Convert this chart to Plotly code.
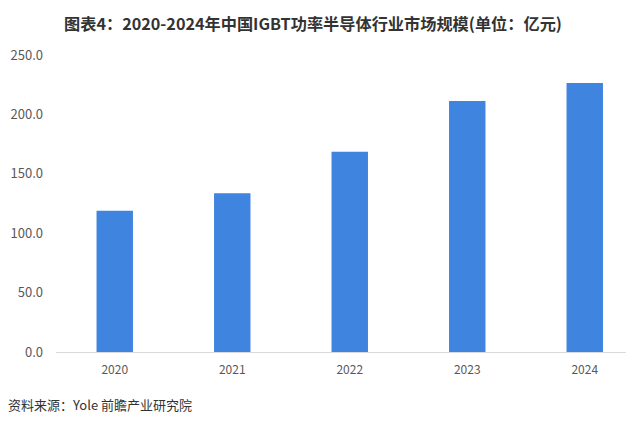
import plotly.graph_objects as go

years = ["2020", "2021", "2022", "2023", "2024"]
market_size = [118.9, 133.6, 168.5, 211.3, 226.5]
y_ticks = [0, 50, 100, 150, 200, 250]
y_tick_labels = ["0.0", "50.0", "100.0", "150.0", "200.0", "250.0"]

title_text = "图表4：2020-2024年中国IGBT功率半导体行业市场规模(单位：亿元)"
source_text = "资料来源：Yole 前瞻产业研究院"

font_cjk = "Noto Sans CJK SC, Microsoft YaHei, sans-serif"

fig = go.Figure()
fig.add_trace(go.Bar(
    x=years,
    y=market_size,
    marker=dict(color="#3F84DF", line=dict(width=0)),
    width=0.31,
    hoverinfo="x+y",
))

fig.update_layout(
    width=626,
    height=425,
    margin=dict(l=56, r=0, t=55, b=73),
    paper_bgcolor="white",
    plot_bgcolor="white",
    showlegend=False,
    font=dict(family=font_cjk, color="#595959"),
    title=dict(
        text="<b>" + title_text + "</b>",
        x=0.5, xanchor="center",
        y=1 - 24 / 425, yanchor="middle",
        font=dict(size=16.2, color="#333333", family=font_cjk),
    ),
    xaxis=dict(
        type="category",
        range=[-0.5, 4.351],
        showgrid=False,
        showline=True,
        linecolor="#D9D9D9",
        linewidth=1,
        ticks="",
        tickfont=dict(size=12, color="#595959"),
        ticklabelstandoff=7,
        zeroline=False,
    ),
    yaxis=dict(
        range=[0, 250],
        tickvals=y_ticks,
        ticktext=y_tick_labels,
        showgrid=False,
        showline=False,
        zeroline=False,
        ticks="",
        tickfont=dict(size=13, color="#595959"),
        ticklabelstandoff=12,
    ),
    annotations=[
        dict(
            text=source_text,
            xref="paper", yref="paper",
            x=-50 / 570, y=-(404 - 352) / 297,
            xanchor="left", yanchor="middle",
            showarrow=False,
            font=dict(size=13, color="#333333", family=font_cjk),
        )
    ],
)

fig.write_html(
    "out.html",
    config={"displayModeBar": False},
    post_script="document.body.style.margin='0';document.body.style.padding='0';",
)
